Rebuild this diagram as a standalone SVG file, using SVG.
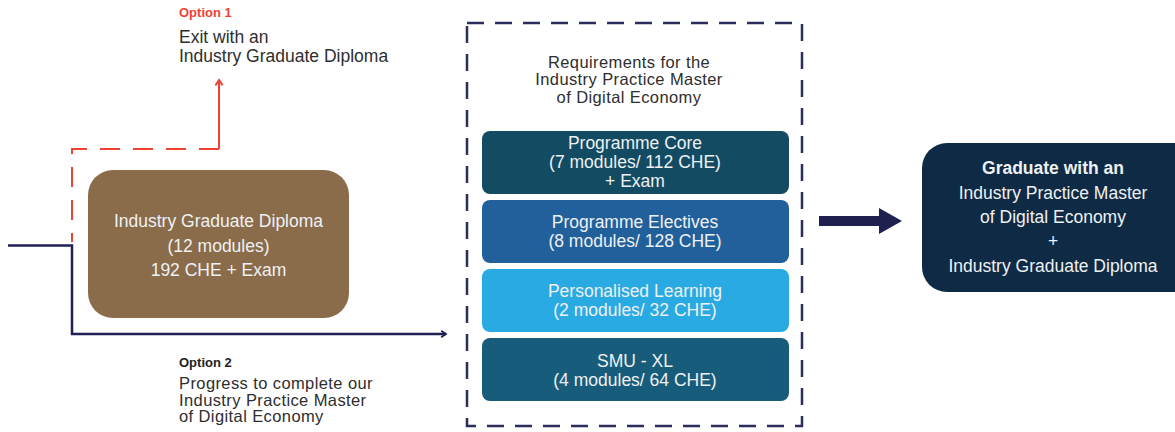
<svg xmlns="http://www.w3.org/2000/svg" width="1175" height="432" viewBox="0 0 1175 432">
<style>
text{font-family:"Liberation Sans",Arial,sans-serif}
.t{font-size:17.5px;fill:#2e2e2e}
.s{font-size:16.5px;fill:#2e2e2e;letter-spacing:0.4px}
.w{font-size:17.5px;fill:#eef1f3;text-anchor:middle}
.lbl{font-size:13px;font-weight:bold}
</style>
<defs>
<marker id="chevNavy" viewBox="0 0 10 10" refX="8" refY="5" markerWidth="8" markerHeight="8" markerUnits="userSpaceOnUse" orient="auto">
<path d="M2,1 L8,5 L2,9" fill="none" stroke="#1f2152" stroke-width="2.2"/>
</marker>
<marker id="chevRed" viewBox="0 0 10 10" refX="8" refY="5" markerWidth="9" markerHeight="9" markerUnits="userSpaceOnUse" orient="auto">
<path d="M2,1 L8,5 L2,9" fill="none" stroke="#ef4136" stroke-width="2.2"/>
</marker>
</defs>
<rect width="1175" height="432" fill="#ffffff"/>

<g id="connectors">
<path d="M219,149 H72 V242" fill="none" stroke="#ef4136" stroke-width="2" stroke-dasharray="20 13"/>
<path d="M219,149 V80" fill="none" stroke="#ef4136" stroke-width="2" marker-end="url(#chevRed)"/>
<path d="M8,245.5 H72 V334 H446" fill="none" stroke="#1f2152" stroke-width="2.5" marker-end="url(#chevNavy)"/>
<path d="M819,216 H879 V208 L902,221 L879,234 V226 H819 Z" fill="#1f1f50"/>
</g>

<g id="option1">
<text x="179" y="17" class="lbl" fill="#ef4136">Option 1</text>
<text x="179" y="43" class="t">Exit with an</text>
<text x="179" y="62" class="t">Industry Graduate Diploma</text>
</g>

<g id="option2">
<text x="179" y="367" class="lbl" fill="#222222">Option 2</text>
<text x="179" y="389" class="s">Progress to complete our</text>
<text x="179" y="405.5" class="s">Industry Practice Master</text>
<text x="179" y="422" class="s">of Digital Economy</text>
</g>

<g id="diploma">
<rect x="88" y="170" width="261" height="148" rx="25" fill="#8a6c4b"/>
<text x="218.5" y="227" class="w">Industry Graduate Diploma</text>
<text x="218.5" y="252" class="w">(12 modules)</text>
<text x="218.5" y="276" class="w">192 CHE + Exam</text>
</g>

<g id="requirements">
<rect x="467" y="23" width="335" height="403" fill="none" stroke="#2b2e5c" stroke-width="2.5" stroke-dasharray="17 11"/>
<text x="629" y="67.5" class="s" text-anchor="middle">Requirements for the</text>
<text x="629" y="85" class="s" text-anchor="middle">Industry Practice Master</text>
<text x="629" y="102.5" class="s" text-anchor="middle">of Digital Economy</text>
</g>

<g id="core">
<rect x="482" y="131" width="307" height="63" rx="8" fill="#134b63"/>
<text x="635" y="149" class="w">Programme Core</text>
<text x="635" y="168" class="w">(7 modules/ 112 CHE)</text>
<text x="635" y="187" class="w">+ Exam</text>
</g>

<g id="electives">
<rect x="482" y="200" width="307" height="63" rx="8" fill="#22609c"/>
<text x="635" y="228" class="w">Programme Electives</text>
<text x="635" y="247" class="w">(8 modules/ 128 CHE)</text>
</g>

<g id="personalised">
<rect x="482" y="269" width="307" height="63" rx="8" fill="#2aaae2"/>
<text x="635" y="297" class="w">Personalised Learning</text>
<text x="635" y="316" class="w">(2 modules/ 32 CHE)</text>
</g>

<g id="smuxl">
<rect x="482" y="338" width="307" height="63" rx="8" fill="#185c7c"/>
<text x="635" y="367" class="w">SMU - XL</text>
<text x="635" y="386" class="w">(4 modules/ 64 CHE)</text>
</g>

<g id="graduate">
<rect x="922" y="143" width="278" height="149" rx="25" fill="#0e2a45"/>
<text x="1053" y="174" class="w" font-weight="bold">Graduate with an</text>
<text x="1053" y="199" class="w">Industry Practice Master</text>
<text x="1053" y="223" class="w">of Digital Economy</text>
<text x="1053" y="247" class="w" font-size="14">+</text>
<text x="1053" y="272" class="w">Industry Graduate Diploma</text>
</g>
</svg>
